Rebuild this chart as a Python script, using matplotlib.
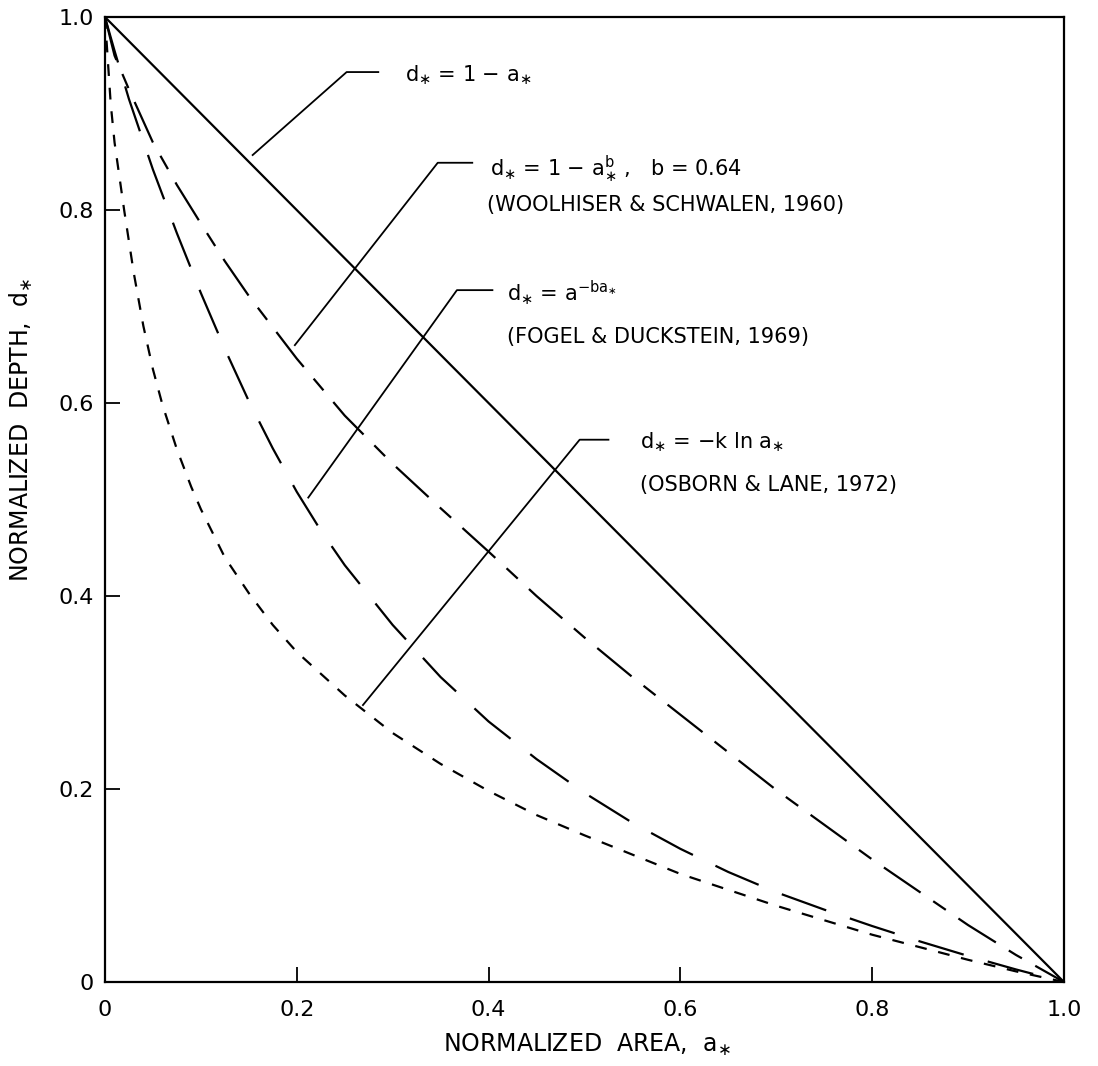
import numpy as np
import matplotlib
matplotlib.use('Agg')
import matplotlib.pyplot as plt

plt.rcParams['font.family'] = ['DejaVu Sans']
plt.rcParams['lines.scale_dashes'] = False

# values (normalized area a*, normalized depth d*)
a_line = [0.0, 1.0]
d_line = [1.0, 0.0]

a_wool = [0, 0.01, 0.025, 0.05, 0.075, 0.1, 0.125, 0.15, 0.2, 0.25, 0.3, 0.35,
          0.4, 0.45, 0.5, 0.55, 0.6, 0.65, 0.7, 0.75, 0.8, 0.85, 0.9, 0.95, 1.0]
d_wool = [1.0, 0.96, 0.925, 0.87, 0.826, 0.786, 0.747, 0.711, 0.646, 0.587,
          0.537, 0.491, 0.446, 0.40, 0.357, 0.316, 0.277, 0.238, 0.199, 0.163,
          0.127, 0.093, 0.059, 0.028, 0.0]

a_fogel = [0, 0.01, 0.025, 0.05, 0.075, 0.1, 0.125, 0.15, 0.175, 0.2, 0.225,
           0.25, 0.3, 0.35, 0.4, 0.45, 0.5, 0.55, 0.6, 0.65, 0.7, 0.75, 0.8,
           0.85, 0.9, 0.95, 1.0]
d_fogel = [1.0, 0.965, 0.915, 0.842, 0.776, 0.714, 0.656, 0.602, 0.553, 0.508,
           0.468, 0.432, 0.37, 0.316, 0.27, 0.231, 0.196, 0.165, 0.138, 0.114,
           0.093, 0.075, 0.058, 0.042, 0.027, 0.013, 0.0]

a_osb = [0, 0.003, 0.006, 0.01, 0.015, 0.02, 0.03, 0.04, 0.05, 0.06, 0.075,
         0.09, 0.1, 0.125, 0.15, 0.175, 0.2, 0.25, 0.3, 0.35, 0.4, 0.45, 0.5,
         0.6, 0.7, 0.8, 0.9, 0.95, 1.0]
d_osb = [1.0, 0.955, 0.91, 0.87, 0.835, 0.80, 0.735, 0.68, 0.635, 0.598, 0.552,
         0.513, 0.49, 0.44, 0.403, 0.37, 0.342, 0.297, 0.258, 0.226, 0.198,
         0.173, 0.152, 0.112, 0.079, 0.049, 0.023, 0.011, 0.0]

ticks = [0, 0.2, 0.4, 0.6, 0.8, 1.0]
tick_labels = ['0', '0.2', '0.4', '0.6', '0.8', '1.0']

label_lines = [
    r'd$_{\ast}$ = 1 $-$ a$_{\ast}$',
    r'd$_{\ast}$ = 1 $-$ a$_{\ast}^{\mathrm{b}}$ ,   b = 0.64',
    '(WOOLHISER & SCHWALEN, 1960)',
    r'd$_{\ast}$ = a$^{-\mathrm{ba}_{\ast}}$',
    '(FOGEL & DUCKSTEIN, 1969)',
    r'd$_{\ast}$ = $-$k ln a$_{\ast}$',
    '(OSBORN & LANE, 1972)',
]
label_pos = [(0.313, 0.940), (0.401, 0.842), (0.398, 0.805), (0.419, 0.714),
             (0.419, 0.668), (0.558, 0.559), (0.558, 0.515)]

fig = plt.figure(figsize=(10.98, 10.66), dpi=100)
ax = fig.add_axes([0.0956, 0.0788, 0.8734, 0.9052])

lw = 1.6
ax.plot(a_line, d_line, color='black', lw=lw)
ax.plot(a_wool, d_wool, color='black', lw=lw, dashes=(32, 11, 11, 11))
ax.plot(a_fogel, d_fogel, color='black', lw=lw, dashes=(34, 18))
ax.plot(a_osb, d_osb, color='black', lw=lw, dashes=(8.5, 8.5))

ax.set_xlim(0, 1)
ax.set_ylim(0, 1)
ax.set_xticks(ticks)
ax.set_yticks(ticks)
ax.set_xticklabels(tick_labels)
ax.set_yticklabels(tick_labels)
ax.tick_params(axis='both', direction='in', length=11, width=1.3,
               labelsize=16, top=False, right=False)
ax.tick_params(axis='x', pad=13)
ax.tick_params(axis='y', pad=8)
for s in ax.spines.values():
    s.set_linewidth(1.6)

ax.set_xlabel(r'NORMALIZED  AREA,  a$_{\ast}$', fontsize=17)
ax.xaxis.set_label_coords(0.503, -0.052)
ax.set_ylabel(r'NORMALIZED  DEPTH,  d$_{\ast}$', fontsize=17)
ax.yaxis.set_label_coords(-0.073, 0.572)

# leader lines (axes data coords)
leaders = [
    ([0.154, 0.252, 0.285], [0.857, 0.943, 0.943]),
    ([0.198, 0.347, 0.383], [0.660, 0.849, 0.849]),
    ([0.212, 0.367, 0.404], [0.502, 0.717, 0.717]),
    ([0.269, 0.495, 0.525], [0.287, 0.562, 0.562]),
]
for xs, ys in leaders:
    ax.plot(xs, ys, color='black', lw=1.3)

for (x, y), t in zip(label_pos, label_lines):
    ax.text(x, y, t, fontsize=15, ha='left', va='center')

fig.savefig('out.png', dpi=100)
